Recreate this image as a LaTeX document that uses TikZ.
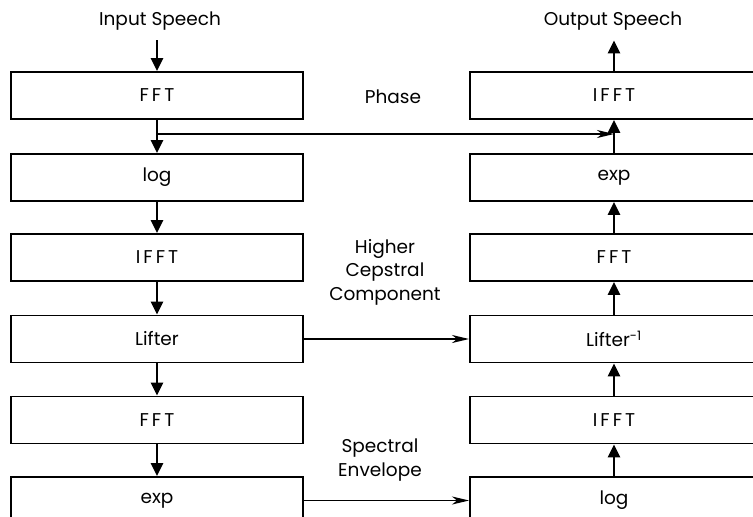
\documentclass[tikz,border=0pt]{standalone}
\usepackage{fontspec}
\setmainfont{Poppins}
\newfontfamily\spaced[LetterSpace=16]{Poppins}
\usetikzlibrary{arrows.meta}
\begin{document}
\begin{tikzpicture}[x=1pt,y=-1pt,
  font=\fontsize{18.5}{23.5}\selectfont,
  blk/.style={draw,line width=1.9pt,minimum height=47pt,inner sep=0pt},
  lblk/.style={blk,minimum width=292pt},
  rblk/.style={blk,minimum width=288pt},
  vflow/.style={line width=2.6pt,-{Triangle[length=13pt,width=12pt]}},
  hflow/.style={line width=1.8pt,-{Stealth[length=17pt,width=8pt,inset=5pt]}},
  lbl/.style={align=center,inner sep=0pt}]
\useasboundingbox (0,0) rectangle (753,517);
\clip (0,0) rectangle (753,517);

% analysis chain (left column)
\node[lblk] (L1) at (157,95.5)  {\spaced FFT};
\node[lblk] (L2) at (157,177.5) {log};
\node[lblk] (L3) at (157,257.5) {\spaced IFFT};
\node[lblk] (L4) at (157,339)   {Lifter};
\node[lblk] (L5) at (157,420)   {\spaced FFT};
\node[lblk] (L6) at (157,500.5) {exp};

% synthesis chain (right column)
\node[rblk] (R1) at (614,95.5)  {\spaced IFFT};
\node[rblk] (R2) at (614,177.5) {exp};
\node[rblk] (R3) at (614,257.5) {\spaced FFT};
\node[rblk] (R4) at (614,339)   {Lifter\textsuperscript{-1}};
\node[rblk] (R5) at (614,420)   {\spaced IFFT};
\node[rblk] (R6) at (614,500.5) {log};

% input / output
\node[lbl] (in)  at (160,21) {Input Speech};
\node[lbl] (out) at (613,21) {Output Speech};
\draw[vflow,shorten <=10pt] (L1.north |- in.south) -- (L1.north);
\draw[vflow,shorten >=10pt] (R1.north) -- (R1.north |- out.south);

% vertical flow
\foreach \a/\b in {L1/L2,L2/L3,L3/L4,L4/L5,L5/L6,R2/R1,R3/R2,R4/R3,R5/R4,R6/R5}
  \draw[vflow] (\a) -- (\b);

% side paths
\node[lbl] (ph) at (393,97) {Phase};
\node[lbl] (hc) at (385,272) {Higher\\Cepstral\\Component};
\node[lbl] (se) at (380,460) {Spectral\\Envelope};
\coordinate (tap) at (157,134);
\draw[hflow] (tap) -- (tap -| R1.south);
\draw[hflow] (L4.east) -- (R4.west);
\draw[hflow] (L6.east) -- (R6.west);
\end{tikzpicture}
\end{document}
